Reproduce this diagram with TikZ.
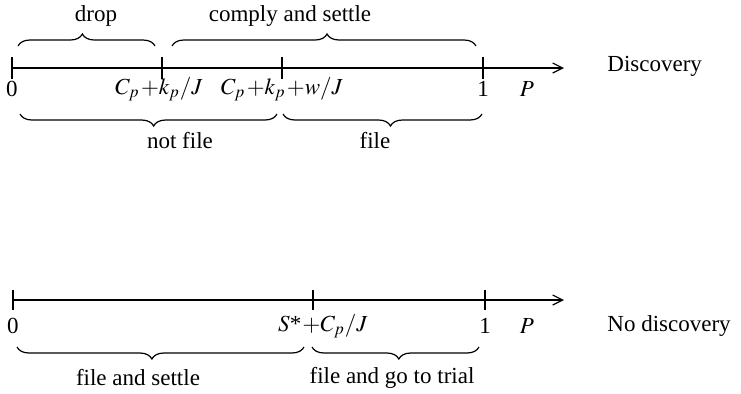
\documentclass[tikz,border=0pt]{standalone}
\usepackage{mathptmx}
\usepackage[no-math]{fontspec}
\setmainfont{Liberation Serif}
\usetikzlibrary{arrows.meta, decorations.pathreplacing}

\begin{document}
\begin{tikzpicture}[x=0.5pt, y=-0.5pt,
  every node/.style={font=\fontsize{11.5}{13}\selectfont, inner sep=0pt},
  mlbl/.style={execute at begin node={\medmuskip=1mu\thinmuskip=1mu}},
  axis/.style={line width=0.6pt, -{Straight Barb[length=5pt, width=5pt]}},
  tick/.style={line width=0.6pt},
  brc/.style={decorate, line width=0.6pt,
    decoration={brace, amplitude=6pt, aspect=#1}},
  brcdown/.style={brc=#1, decoration={mirror}}]

\useasboundingbox (0,0) rectangle (741,393);

% discovery
\coordinate (d0) at (12,68);
\coordinate (dend) at (564,68);
\coordinate (d1) at (162,68);
\coordinate (d2) at (282,68);
\coordinate (d3) at (483,68);
\draw[axis] (d0) -- (dend);
\draw[tick] (d0) ++(0,-11) -- ++(0,22);
\draw[tick] (d1) ++(0,-11) -- ++(0,22);
\draw[tick] (d2) ++(0,-11) -- ++(0,22);
\draw[tick] (d3) ++(0,-11) -- ++(0,22);

\node (lbl0) at (12,89) {0};
\node[mlbl] (lbl1) at (159,89) {$C_p\,{+}k_p/J$};
\node[mlbl] (lbl2) at (282,89) {$C_p\,{+}k_p\,{+}w/J$};
\node (lbl3) at (483,89) {1};
\node (lblP) at (527,89) {$P$};
\node[anchor=west] (disc) at (607,66) {Discovery};

\coordinate (drA) at (18,46);   \coordinate (drB) at (155,46);
\coordinate (csA) at (172,46);  \coordinate (csB) at (476,46);
\coordinate (nfA) at (20,114);  \coordinate (nfB) at (277,114);
\coordinate (fA) at (283,114);  \coordinate (fB) at (482,114);
\draw[brc=0.47] (drA) -- (drB);
\draw[brc=0.51] (csA) -- (csB);
\draw[brcdown=0.52] (nfA) -- (nfB);
\draw[brcdown=0.54] (fA) -- (fB);
\node (drop) at (96,16) {drop};
\node (comply) at (290,16) {comply and settle};
\node (notfile) at (180,141) {not file};
\node (file) at (375,141) {file};

% no discovery
\coordinate (n0) at (13,300);
\coordinate (nend) at (564,300);
\coordinate (n1) at (313,300);
\coordinate (n2) at (485,300);
\draw[axis] (n0) -- (nend);
\draw[tick] (n0) ++(0,-10) -- ++(0,20);
\draw[tick] (n1) ++(0,-10) -- ++(0,20);
\draw[tick] (n2) ++(0,-10) -- ++(0,20);

\node (nlbl0) at (13,326) {0};
\node[mlbl] (nlbl1) at (323,326) {$S$*$\,{+}C_p/J$};
\node (nlbl2) at (485,326) {1};
\node (nlblP) at (527,326) {$P$};
\node[anchor=west] (nodisc) at (607,326) {No discovery};

\coordinate (fsA) at (17,347);  \coordinate (fsB) at (304,347);
\coordinate (ftA) at (312,347); \coordinate (ftB) at (479,347);
\draw[brcdown=0.47] (fsA) -- (fsB);
\draw[brcdown=0.52] (ftA) -- (ftB);
\node (settle) at (138,378) {file and settle};
\node (trial) at (392,378) {file and go to trial};

\end{tikzpicture}
\end{document}
